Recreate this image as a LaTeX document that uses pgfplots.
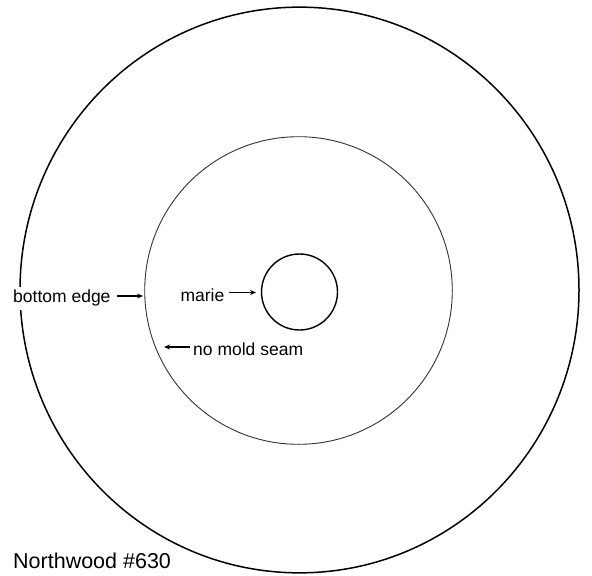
\documentclass[border=0pt]{standalone}
\usepackage{pgfplots}
\pgfplotsset{compat=1.18}
\usepackage{fontspec}
\setmainfont{Liberation Sans}
\usetikzlibrary{arrows.meta}
\begin{document}
\begin{tikzpicture}
\begin{axis}[
  width=592bp, height=576bp, scale only axis,
  xmin=0, xmax=592, ymin=0, ymax=576, y dir=reverse,
  hide axis, clip=false,
]
\path (rel axis cs:0,0) rectangle (rel axis cs:1,1);
% outer circle
\addplot[only marks, mark=o, mark size=279.5bp, mark options={line width=1.5bp, yscale=1.012, draw=black}] coordinates {(299.5,290)};
% middle circle
\addplot[only marks, mark=o, mark size=153.8bp, mark options={line width=0.9bp, draw=black!80}] coordinates {(298.5,290.5)};
% inner circle
\addplot[only marks, mark=o, mark size=38bp, mark options={line width=1.4bp, draw=black}] coordinates {(299.5,292)};
% arrows
\addplot[line width=1.5bp, -{Stealth[length=6bp,width=5bp]}] coordinates {(117,296) (143,296)};
\addplot[line width=1.5bp, -{Stealth[length=6bp,width=5bp]}] coordinates {(229,292.5) (256,292.5)};
\addplot[line width=1.5bp, -{Stealth[length=6bp,width=5bp]}] coordinates {(190,347) (164,347)};
% labels
\coordinate (be) at (axis cs:10,303);
\node[anchor=base east, inner sep=0pt, font=\fontsize{17.5bp}{20bp}\selectfont] at (axis cs:224.5,301) {marie};
\node[anchor=base west, inner sep=0pt, font=\fontsize{17.5bp}{20bp}\selectfont] at (axis cs:193,355) {no mold seam};
\node[anchor=base west, inner sep=0pt, font=\fontsize{21.5bp}{24bp}\selectfont] at (axis cs:13,568) {Northwood \#630};
\end{axis}
\node[anchor=base west, inner sep=3bp, fill=white, font=\fontsize{17.5bp}{20bp}\selectfont] at (be) {bottom edge};
\end{tikzpicture}
\end{document}
